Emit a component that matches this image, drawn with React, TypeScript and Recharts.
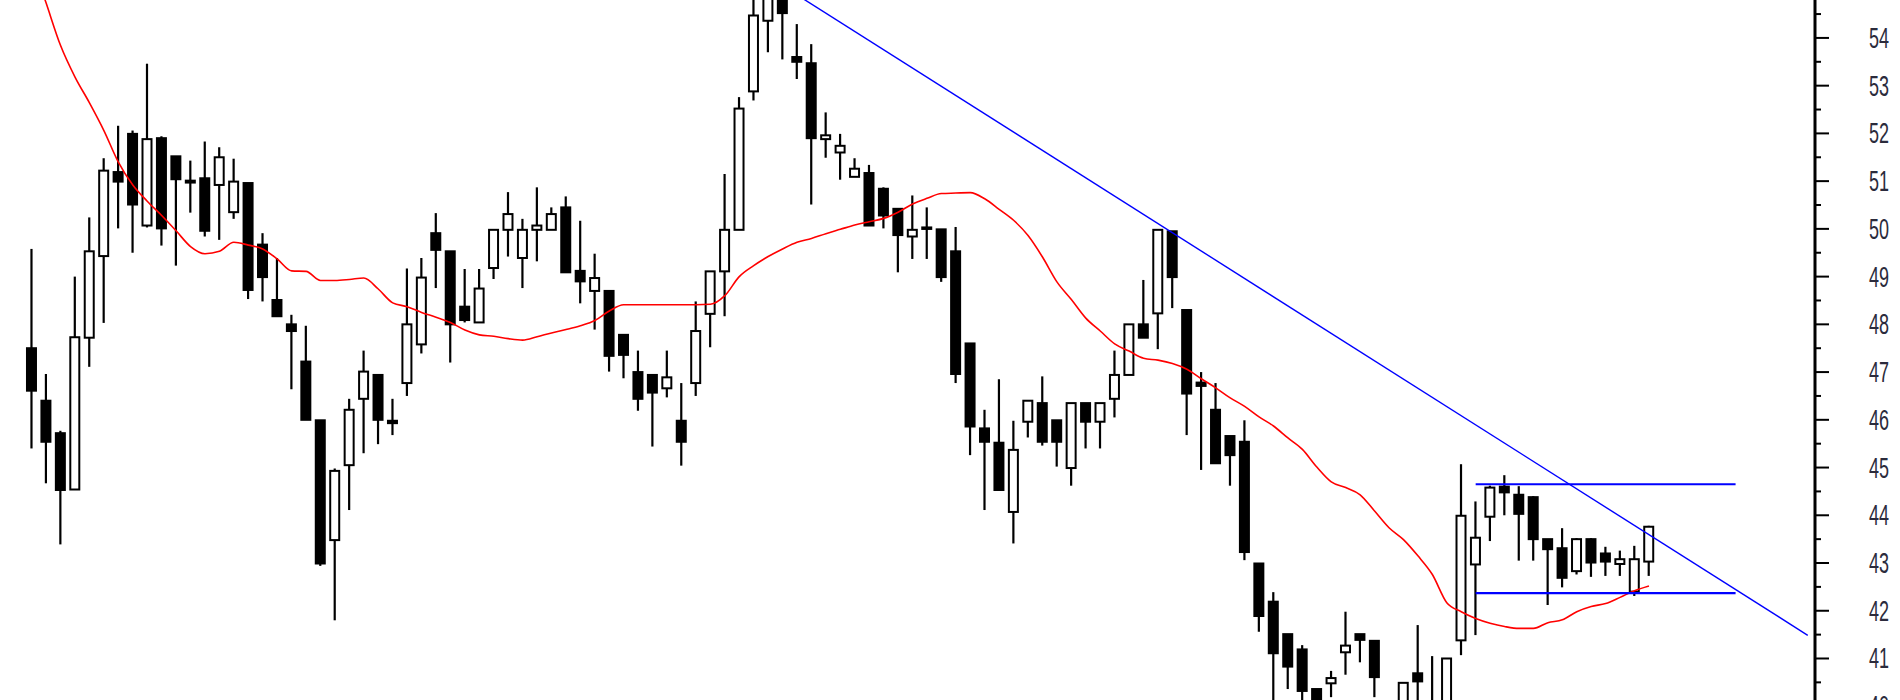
import { ComposedChart, Bar, Line, XAxis, YAxis } from 'recharts';

// daily candles, oldest first
const opens = [
  47.5, 46.4, 45.72, 44.54, 47.72, 49.43, 51.19, 51.99, 50.07, 51.9,
  51.52, 51.01, 51.06, 50.92, 50.35, 50.96, 49.67, 48.51, 48.0, 47.22,
  45.99, 43.48, 45.05, 46.44, 46.94, 45.98, 46.77, 47.58, 49.91, 49.53,
  48.37, 48.04, 49.18, 49.98, 49.39, 49.98, 49.98, 50.45, 49.12, 48.7,
  48.7, 47.78, 47.0, 46.94, 46.66, 45.98, 46.77, 48.22, 49.11, 49.98,
  52.88, 54.36, 55.05, 53.6, 53.47, 51.88, 51.6, 51.09, 51.17, 50.84,
  50.42, 49.84, 50.03, 49.99, 49.53, 47.6, 45.82, 45.52, 44.07, 45.96,
  46.35, 45.99, 44.99, 46.35, 45.96, 46.44, 46.94, 48.0, 48.23, 49.95,
  48.3, 46.78, 46.21, 45.66, 45.54, 42.99, 42.19, 41.51, 41.19, 40.36,
  40.48, 41.13, 41.51, 41.37, 39.95, 39.9, 40.69, 40.05, 39.95, 41.38,
  42.97, 43.97, 44.6, 44.43, 44.38, 43.5, 43.31, 42.83, 43.5, 43.2,
  42.98, 42.4, 43.03,
];
const highs = [
  49.58, 46.96, 45.77, 49.0, 50.24, 51.48, 52.16, 52.06, 53.46, 51.94,
  51.52, 51.43, 51.83, 51.71, 51.47, 50.96, 49.91, 49.39, 48.2, 47.97,
  45.99, 44.98, 46.44, 47.45, 46.94, 46.44, 49.17, 49.39, 50.33, 49.53,
  49.16, 49.16, 49.98, 50.77, 50.21, 50.87, 50.45, 50.68, 50.17, 49.48,
  48.7, 47.78, 47.45, 46.94, 47.45, 46.77, 48.48, 49.11, 51.15, 52.76,
  55.05, 55.28, 55.2, 54.29, 53.87, 52.44, 51.99, 51.48, 51.34, 50.87,
  50.42, 50.7, 50.45, 49.99, 50.04, 47.6, 46.21, 46.85, 45.98, 46.4,
  46.91, 45.99, 46.35, 46.35, 46.35, 47.45, 48.0, 48.93, 49.98, 49.95,
  48.3, 47.0, 46.77, 45.66, 45.99, 42.99, 42.39, 41.51, 41.28, 40.36,
  40.74, 41.98, 41.51, 41.37, 40.05, 40.49, 41.7, 41.05, 41.0, 45.07,
  44.29, 44.62, 44.84, 44.61, 44.4, 43.5, 43.73, 43.52, 43.52, 43.34,
  43.26, 43.36, 43.78,
];
const lows = [
  45.4, 44.67, 43.39, 44.54, 47.11, 48.03, 50.01, 49.5, 50.03, 49.65,
  49.23, 50.34, 49.84, 49.77, 50.21, 48.53, 48.48, 48.17, 46.64, 46.0,
  42.94, 41.8, 44.11, 45.3, 45.49, 45.68, 46.5, 47.39, 48.76, 47.2,
  48.04, 48.04, 48.95, 49.42, 48.76, 49.32, 49.98, 49.09, 48.44, 47.89,
  47.01, 46.87, 46.19, 45.44, 46.47, 45.04, 46.5, 47.52, 48.17, 49.98,
  52.69, 53.7, 53.55, 53.14, 50.51, 51.49, 51.03, 51.09, 50.07, 50.01,
  49.09, 49.37, 49.37, 48.89, 46.77, 45.26, 44.11, 44.53, 43.41, 45.63,
  45.46, 45.02, 44.62, 45.4, 45.4, 46.05, 46.94, 47.72, 47.48, 48.34,
  45.68, 44.95, 45.09, 44.62, 43.06, 41.56, 39.9, 40.36, 39.95, 39.7,
  40.19, 40.66, 40.92, 40.19, 39.5, 39.7, 39.9, 39.8, 39.85, 41.07,
  41.49, 43.46, 44.0, 43.05, 43.05, 42.12, 42.49, 42.76, 42.71, 42.73,
  42.73, 42.31, 42.73,
];
const closes = [
  46.61, 45.54, 44.53, 47.73, 49.53, 51.22, 50.99, 50.51, 51.88, 50.01,
  51.04, 50.97, 49.96, 51.5, 50.99, 48.72, 48.99, 48.17, 47.86, 46.0,
  42.99, 44.93, 46.21, 47.01, 46.0, 45.93, 48.0, 48.98, 49.56, 48.0,
  48.09, 48.75, 49.98, 50.31, 49.98, 50.07, 50.31, 49.09, 48.9, 48.97,
  47.34, 47.36, 46.44, 46.57, 46.89, 45.54, 47.86, 49.11, 49.98, 52.52,
  54.47, 55.1, 54.52, 53.5, 51.9, 51.96, 51.74, 51.26, 50.07, 50.28,
  49.87, 49.98, 50.01, 48.99, 46.96, 45.86, 45.54, 44.53, 45.37, 46.4,
  45.54, 45.54, 46.35, 45.96, 46.35, 46.94, 48.0, 47.72, 49.98, 48.99,
  46.55, 46.71, 45.09, 45.26, 43.23, 41.89, 41.11, 40.83, 40.32, 39.95,
  40.59, 41.27, 41.39, 40.61, 39.7, 40.49, 40.52, 39.95, 41.0, 43.99,
  43.53, 44.58, 44.48, 44.03, 43.5, 43.29, 42.69, 43.5, 43.01, 43.03,
  43.08, 43.08, 43.76,
];
// red moving average
const maValues = [
  55.62, 54.73, 53.84, 53.18, 52.64, 52.06, 51.4, 50.92, 50.58, 50.28,
  49.96, 49.63, 49.48, 49.53, 49.72, 49.66, 49.58, 49.37, 49.12, 49.11,
  48.92, 48.92, 48.94, 48.97, 48.74, 48.45, 48.37, 48.25, 48.15, 48.04,
  47.88, 47.78, 47.75, 47.7, 47.67, 47.74, 47.82, 47.89, 47.97, 48.08,
  48.28, 48.41, 48.41, 48.41, 48.41, 48.41, 48.41, 48.42, 48.6, 49.0,
  49.23, 49.42, 49.58, 49.72, 49.8, 49.9, 49.99, 50.08, 50.15, 50.22,
  50.35, 50.52, 50.64, 50.74, 50.75, 50.76, 50.63, 50.41, 50.18, 49.86,
  49.41, 48.89, 48.52, 48.13, 47.86, 47.59, 47.44, 47.29, 47.25, 47.18,
  47.06, 46.86, 46.67, 46.46, 46.28, 46.06, 45.87, 45.62, 45.38, 45.01,
  44.7, 44.58, 44.43, 44.09, 43.74, 43.49, 43.15, 42.76, 42.17, 41.98,
  41.84, 41.74, 41.67, 41.63, 41.63, 41.75, 41.81, 41.98, 42.09, 42.15,
  42.28, 42.42, 42.52,
];
const FUTURE_SLOTS = 11; // empty sessions right of the last candle

// drawn lines: downtrend and the two range lines
const trendLine = [{ i: 51, v: 55.285 }, { i: 123, v: 41.486 }];
const rangeTop = [{ i: 100, v: 44.65 }, { i: 118, v: 44.65 }];
const rangeBottom = [{ i: 100, v: 42.37 }, { i: 118, v: 42.37 }];

const yTicks = [
  39.5, 40, 40.5, 41, 41.5, 42, 42.5, 43, 43.5, 44, 44.5, 45, 45.5, 46, 46.5, 47,
  47.5, 48, 48.5, 49, 49.5, 50, 50.5, 51, 51.5, 52, 52.5, 53, 53.5, 54, 54.5, 55, 55.5,
];

const AXIS_X = 1815;

const rows = Array.from({ length: opens.length + FUTURE_SLOTS }, (_, i) => {
  const row: any = { i };
  if (i < opens.length) {
    row.o = opens[i];
    row.h = highs[i];
    row.l = lows[i];
    row.c = closes[i];
    row.range = [lows[i], highs[i]];
    row.ma = maValues[i];
  }
  const t = trendLine.find(p => p.i === i);
  if (t) row.trend = t.v;
  const a = rangeTop.find(p => p.i === i);
  if (a) row.top = a.v;
  const b = rangeBottom.find(p => p.i === i);
  if (b) row.bottom = b.v;
  return row;
});

const Candle = (props: any) => {
  const { x, y, width, height, payload } = props;
  if (!payload || payload.o == null) return null;
  const { o, h, l, c } = payload;
  const top = Math.min(y, y + height);
  const bottom = Math.max(y, y + height);
  const toY = (v: number) => top + ((h - v) / (h - l || 1)) * (bottom - top);
  const cx = x + width / 2;
  const up = c >= o;
  const y1 = toY(Math.max(o, c));
  const y2 = toY(Math.min(o, c));
  return (
    <g>
      <line x1={cx} x2={cx} y1={top} y2={bottom} stroke="#000" strokeWidth={2.2} />
      <rect
        x={cx - 4.5}
        y={y1}
        width={9}
        height={Math.max(y2 - y1, 1.5)}
        fill={up ? '#fff' : '#000'}
        stroke="#000"
        strokeWidth={2}
      />
    </g>
  );
};

const AxisTick = (props: any) => {
  const { y, payload } = props;
  const v = payload.value;
  const major = Number.isInteger(v);
  return (
    <g>
      <line x1={AXIS_X} x2={AXIS_X + (major ? 14 : 6)} y1={y} y2={y} stroke="#000" strokeWidth={2} />
      {major && (
        <text
          x={1869}
          y={y}
          dy={10}
          textLength={20}
          lengthAdjust="spacingAndGlyphs"
          fontSize={29}
          fontFamily="'Liberation Sans', Arial, sans-serif"
          fill="#2b2b3c"
        >
          {v}
        </text>
      )}
    </g>
  );
};

export default function App() {
  return (
    <div style={{ position: 'absolute', left: 0, top: 0, width: 1900, height: 700, overflow: 'hidden', background: '#fff' }}>
      <div style={{ position: 'relative', top: -50 }}>
        <ComposedChart
          width={1900}
          height={800}
          data={rows}
          margin={{ top: 0, right: 0, bottom: 0, left: 24.48 }}
          barCategoryGap={0}
        >
          <XAxis dataKey="i" type="category" hide />
          <YAxis
            orientation="right"
            width={85}
            domain={[39.083, 55.842]}
            allowDataOverflow
            ticks={yTicks}
            interval={0}
            axisLine={{ stroke: '#000', strokeWidth: 3 }}
            tickLine={false}
            tick={<AxisTick />}
          />
          <Bar dataKey="range" shape={<Candle />} isAnimationActive={false} />
          <Line type="monotone" dataKey="ma" stroke="#ff0000" strokeWidth={1.6} dot={false} isAnimationActive={false} />
          <Line type="linear" dataKey="trend" stroke="#0000ff" strokeWidth={1.4} dot={false} connectNulls isAnimationActive={false} />
          <Line type="linear" dataKey="top" stroke="#0000ff" strokeWidth={2.2} dot={false} connectNulls isAnimationActive={false} />
          <Line type="linear" dataKey="bottom" stroke="#0000ff" strokeWidth={2.2} dot={false} connectNulls isAnimationActive={false} />
        </ComposedChart>
      </div>
    </div>
  );
}
